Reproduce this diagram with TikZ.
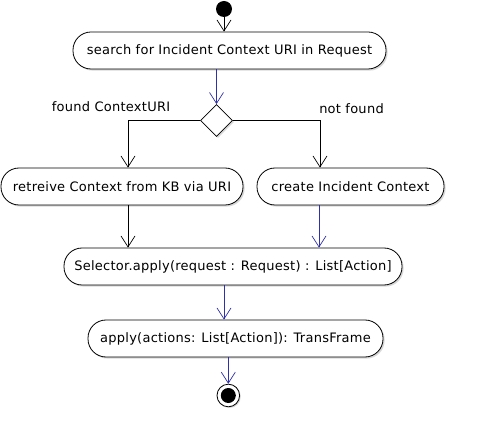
\documentclass[tikz,border=0pt]{standalone}
\usepackage{fontspec}
\setmainfont[LetterSpace=2]{DejaVu Sans}
\usetikzlibrary{shapes.geometric,arrows.meta,shadows}
\definecolor{flowblue}{RGB}{48,48,168}
\begin{document}
\begin{tikzpicture}[x=1pt,y=-1pt,
  font=\fontsize{13}{15}\selectfont,
  act/.style={draw, line width=0.8pt, rounded corners=18pt, minimum height=37pt,
    inner sep=0pt, fill=white,
    drop shadow={shadow xshift=1.6pt, shadow yshift=-1.6pt, opacity=0.3}},
  dec/.style={draw, diamond, line width=0.8pt, minimum width=32pt, minimum height=32pt,
    inner sep=0pt, fill=white,
    drop shadow={shadow xshift=1.5pt, shadow yshift=-1.5pt, opacity=0.3}},
  flow/.style={line width=0.8pt, -{Straight Barb[length=11pt,width=14pt,line width=0.7pt]}},
  bflow/.style={flow, draw=flowblue},
  lbl/.style={inner sep=0pt}]
\useasboundingbox (0,0) rectangle (482,446);
\fill[white] (0,0) rectangle (482,446);

\node[circle, fill=black, minimum size=16pt, inner sep=0pt] (start) at (224,9) {};
\node[act, minimum width=313pt] (b1) at (229.5,50.5) {search for Incident Context URI in Request};
\node[dec] (d) at (216.5,120.5) {};
\node[act, minimum width=242pt] (b2) at (122,186.5) {retreive Context from KB via URI};
\node[act, minimum width=187pt] (b3) at (350.5,186.5) {create Incident Context};
\node[act, minimum width=338pt] (b4) at (233,266.5) {Selector.apply(request : Request) : List[Action]};
\node[act, minimum width=295pt] (b5) at (235.5,338.5) {apply(actions: List[Action]): TransFrame};
\node[circle, draw, line width=0.8pt, fill=white, minimum size=22.6pt, inner sep=0pt,
  drop shadow={shadow xshift=1.2pt, shadow yshift=-1.2pt, opacity=0.3}] (end) at (228.3,395.5) {};
\node[circle, fill=black, minimum size=15pt, inner sep=0pt] (endin) at (end.center) {};

\node[lbl] (lfound) at (111,107) {found ContextURI};
\node[lbl] (lnot) at (351.5,109) {not found};

\draw[flow] (start) -- (start |- b1.north);
\draw[bflow] (d.north |- b1.south) -- (d.north);
\draw[flow] (d.west) -| ([xshift=6pt]b2.north);
\draw[flow] (d.east) -| ([xshift=-30.5pt]b3.north);
\draw[flow] ([xshift=6pt]b2.south) -- ([xshift=6pt]b2.south |- b4.north);
\draw[bflow] ([xshift=-31.5pt]b3.south) -- ([xshift=-31.5pt]b3.south |- b4.north);
\draw[bflow] ([xshift=-9pt]b4.south) -- ([xshift=-9pt]b4.south |- b5.north);
\draw[bflow] ([xshift=-7.2pt]b5.south) -- (end.north);
\end{tikzpicture}
\end{document}
